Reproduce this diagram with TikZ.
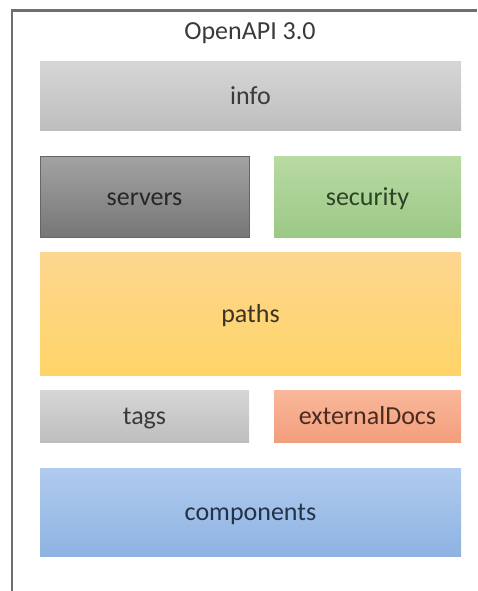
\documentclass[tikz,border=0pt]{standalone}
\usepackage{fontspec}
\setmainfont{Carlito}
\usepackage{xcolor}
\usetikzlibrary{positioning}

\definecolor{framegray}{HTML}{6F6F6F}
\definecolor{infotop}{HTML}{D6D6D6}
\definecolor{infobot}{HTML}{BEBEBE}
\definecolor{servtop}{HTML}{A3A3A3}
\definecolor{servbot}{HTML}{767676}
\definecolor{secutop}{HTML}{B8DAA3}
\definecolor{secubot}{HTML}{9CC886}
\definecolor{pathtop}{HTML}{FDD690}
\definecolor{pathbot}{HTML}{FFD467}
\definecolor{docstop}{HTML}{F9B89A}
\definecolor{docsbot}{HTML}{F29E7C}
\definecolor{comptop}{HTML}{B0CBEE}
\definecolor{compbot}{HTML}{8EB3E2}
\definecolor{labelgray}{HTML}{3A3A3A}
\definecolor{secutext}{HTML}{2E4226}
\definecolor{pathtext}{HTML}{3D3322}
\definecolor{docstext}{HTML}{4A2B20}
\definecolor{comptext}{HTML}{243247}

\begin{document}
\begin{tikzpicture}[
    x=1pt, y=-1pt,
    font=\fontsize{26}{30}\selectfont,
    block/.style={rectangle, inner sep=0pt, text=labelgray, minimum width=421pt, text height=20pt, text depth=3pt},
    halfbox/.style={block, minimum width=209pt},
    rightbox/.style={block, minimum width=187pt}
]
\useasboundingbox (0,0) rectangle (477,591);

% outer frame, open to the right and bottom
\draw[framegray, line width=2.2pt] (477,10.5) -- (12,10.5) -- (12,591);

\node[text=labelgray] (title) at (250,33) {OpenAPI 3.0};

\node[block, minimum height=68pt, top color=infotop, bottom color=infobot] (info) at (250.5,96) {info};

\node[halfbox, minimum height=81pt, top color=servtop, bottom color=servbot, draw=black!60, text=black!85] (servers) at (144.5,196.5) {servers};
\node[rightbox, minimum height=81pt, top color=secutop, bottom color=secubot, text=secutext] (security) at (367.5,196.5) {security};

\node[block, minimum height=123pt, top color=pathtop, bottom color=pathbot, text=pathtext] (paths) at (250.5,313.5) {paths};

\node[halfbox, minimum height=52pt, top color=infotop, bottom color=infobot] (tags) at (144.5,416) {tags};
\node[rightbox, minimum height=52pt, top color=docstop, bottom color=docsbot, text=docstext] (docs) at (367.5,416) {externalDocs};

\node[block, minimum height=88pt, top color=comptop, bottom color=compbot, text=comptext] (components) at (250.5,512) {components};

\end{tikzpicture}
\end{document}
